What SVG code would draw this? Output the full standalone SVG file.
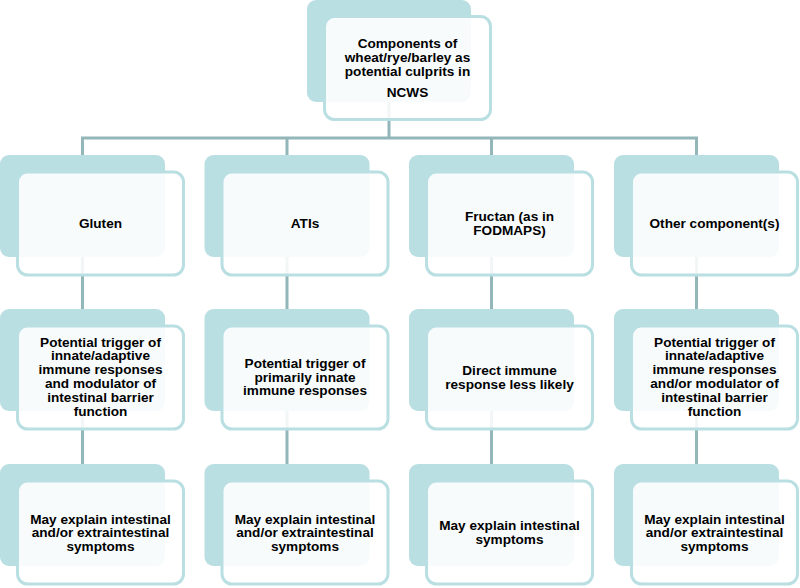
<svg xmlns="http://www.w3.org/2000/svg" width="800" height="588" viewBox="0 0 800 588">
<style>
.bk{fill:#b9dfe2}
.fr{fill:#ffffff;fill-opacity:0.88;stroke:#b9dfe2;stroke-width:3}
.ln{stroke:#93b6b9;stroke-width:3;fill:none}
text{font-family:"Liberation Sans",Arial,sans-serif;font-weight:bold;font-size:13.6px;fill:#000;text-anchor:middle}
</style>
<rect width="800" height="588" fill="#ffffff"/>
<g id="connectors">
<path class="ln" d="M389 102V138M82.5 138H696.5M82.5 136.5V155M287 136.5V155M491.5 136.5V155M696.5 136.5V155"/>
<path class="ln" d="M82.5 257V309M287 257V309M491.5 257V309M696.5 257V309"/>
<path class="ln" d="M82.5 411V464M287 411V464M491.5 411V464M696.5 411V464"/>
</g>
<g id="n0">
<rect class="bk" x="307" y="0" width="164" height="102" rx="9"/>
<rect class="fr" x="324.5" y="16.5" width="166" height="103" rx="10"/>
<text x="407.5" y="48">Components of</text>
<text x="407.5" y="62">wheat/rye/barley as</text>
<text x="407.5" y="76">potential culprits in</text>
<text x="407.5" y="97">NCWS</text>
</g>
<g id="n1">
<rect class="bk" x="0" y="155" width="165" height="102" rx="9"/>
<rect class="fr" x="17.5" y="172" width="166" height="103" rx="10"/>
<text x="100.5" y="227.5">Gluten</text>
</g>
<g id="n2">
<rect class="bk" x="204.5" y="155" width="165" height="102" rx="9"/>
<rect class="fr" x="222" y="172" width="166" height="103" rx="10"/>
<text x="305" y="227.5">ATIs</text>
</g>
<g id="n3">
<rect class="bk" x="409" y="155" width="165" height="102" rx="9"/>
<rect class="fr" x="426.5" y="172" width="166" height="103" rx="10"/>
<text x="509.5" y="221">Fructan (as in</text>
<text x="509.5" y="235">FODMAPS)</text>
</g>
<g id="n4">
<rect class="bk" x="614" y="155" width="165" height="102" rx="9"/>
<rect class="fr" x="631.5" y="172" width="166" height="103" rx="10"/>
<text x="714.5" y="227.5">Other component(s)</text>
</g>
<g id="n5">
<rect class="bk" x="0" y="309" width="165" height="102" rx="9"/>
<rect class="fr" x="17.5" y="326" width="166" height="103" rx="10"/>
<text x="100.5" y="346.5">Potential trigger of</text>
<text x="100.5" y="360.3">innate/adaptive</text>
<text x="100.5" y="374.1">immune responses</text>
<text x="100.5" y="387.9">and modulator of</text>
<text x="100.5" y="401.7">intestinal barrier</text>
<text x="100.5" y="415.5">function</text>
</g>
<g id="n6">
<rect class="bk" x="204.5" y="309" width="165" height="102" rx="9"/>
<rect class="fr" x="222" y="326" width="166" height="103" rx="10"/>
<text x="305" y="367.7">Potential trigger of</text>
<text x="305" y="381.5">primarily innate</text>
<text x="305" y="395.3">immune responses</text>
</g>
<g id="n7">
<rect class="bk" x="409" y="309" width="165" height="102" rx="9"/>
<rect class="fr" x="426.5" y="326" width="166" height="103" rx="10"/>
<text x="509.5" y="375">Direct immune</text>
<text x="509.5" y="388.8">response less likely</text>
</g>
<g id="n8">
<rect class="bk" x="614" y="309" width="165" height="102" rx="9"/>
<rect class="fr" x="631.5" y="326" width="166" height="103" rx="10"/>
<text x="714.5" y="346.5">Potential trigger of</text>
<text x="714.5" y="360.3">innate/adaptive</text>
<text x="714.5" y="374.1">immune responses</text>
<text x="714.5" y="387.9">and/or modulator of</text>
<text x="714.5" y="401.7">intestinal barrier</text>
<text x="714.5" y="415.5">function</text>
</g>
<g id="n9">
<rect class="bk" x="0" y="464" width="165" height="102" rx="9"/>
<rect class="fr" x="17.5" y="481" width="166" height="103" rx="10"/>
<text x="100.5" y="523.5">May explain intestinal</text>
<text x="100.5" y="537.1">and/or extraintestinal</text>
<text x="100.5" y="550.7">symptoms</text>
</g>
<g id="n10">
<rect class="bk" x="204.5" y="464" width="165" height="102" rx="9"/>
<rect class="fr" x="222" y="481" width="166" height="103" rx="10"/>
<text x="305" y="523.5">May explain intestinal</text>
<text x="305" y="537.1">and/or extraintestinal</text>
<text x="305" y="550.7">symptoms</text>
</g>
<g id="n11">
<rect class="bk" x="409" y="464" width="165" height="102" rx="9"/>
<rect class="fr" x="426.5" y="481" width="166" height="103" rx="10"/>
<text x="509.5" y="530">May explain intestinal</text>
<text x="509.5" y="543.8">symptoms</text>
</g>
<g id="n12">
<rect class="bk" x="614" y="464" width="165" height="102" rx="9"/>
<rect class="fr" x="631.5" y="481" width="166" height="103" rx="10"/>
<text x="714.5" y="523.5">May explain intestinal</text>
<text x="714.5" y="537.1">and/or extraintestinal</text>
<text x="714.5" y="550.7">symptoms</text>
</g>
</svg>
